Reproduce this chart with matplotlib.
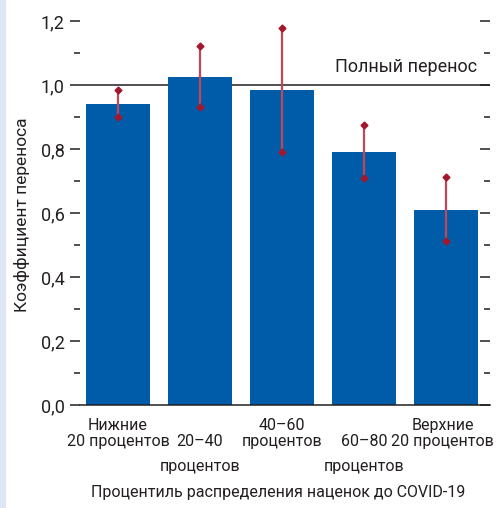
import matplotlib
matplotlib.use("Agg")
import matplotlib.pyplot as plt
from matplotlib.patches import Rectangle
from matplotlib.ticker import MultipleLocator
import numpy as np

# ---------- data ----------
categories = [["Нижние", "20 процентов"], ["20–40", "процентов"],
              ["40–60", "процентов"], ["60–80", "процентов"],
              ["Верхние", "20 процентов"]]
label_drop = [0, 1, 0, 1, 0]          # staggered tick labels
values = [0.941, 1.026, 0.983, 0.791, 0.610]
err_hi = [0.985, 1.123, 1.177, 0.875, 0.711]
err_lo = [0.901, 0.930, 0.792, 0.708, 0.511]
full_level = 1.0

# ---------- style ----------
plt.rcParams['font.family'] = ['Roboto', 'DejaVu Sans']
txt = "#231f20"
bar_c = "#005ca8"
err_line = "#c2465a"
err_dot = "#a3172d"
fs = 12

fig = plt.figure(figsize=(4.96, 5.08), dpi=100)
fig.patches.append(Rectangle((0, 0), 5/496, 1, transform=fig.transFigure,
                             color="#dde7f3", zorder=0))
ax = fig.add_axes([80/496, 1 - 405/508, 410/496, 384/508])

x = np.arange(len(values))
ax.axhline(full_level, color=txt, lw=1.1, zorder=1)
ax.bar(x, values, width=0.78, color=bar_c, zorder=2)
ax.vlines(x, err_lo, err_hi, color=err_line, lw=1.6, zorder=3)
ax.plot(x, err_hi, ls="none", marker="D", ms=3.5, color=err_dot, zorder=4)
ax.plot(x, err_lo, ls="none", marker="D", ms=3.5, color=err_dot, zorder=4)

ax.set_xlim(-0.463, 4.537)
ax.set_ylim(0, 1.2)

for s in ("top", "right", "left"):
    ax.spines[s].set_visible(False)
ax.spines["bottom"].set_color(txt)
ax.spines["bottom"].set_linewidth(1.1)

ax.yaxis.set_major_locator(MultipleLocator(0.2))
ax.yaxis.set_minor_locator(MultipleLocator(0.1))
ax.yaxis.set_major_formatter(lambda v, p: f"{v:.1f}".replace(".", ","))
ax.tick_params(axis="y", which="major", length=7, width=1.1, color=txt,
               labelsize=fs + 1, labelcolor=txt, pad=4, right=True)
ax.tick_params(axis="y", which="minor", length=4, width=1.1, color=txt, right=True)
# right-side ticks point inward
for t in ax.yaxis.get_major_ticks() + ax.yaxis.get_minor_ticks():
    t.tick2line.set_marker(matplotlib.lines.TICKLEFT)
ax.set_xticks(x)
ax.set_xticklabels([])
ax.tick_params(axis="x", length=0)

rows = [-0.054, -0.096, -0.160]
tr = ax.get_xaxis_transform()
last = len(categories) - 1
for i, (xi, lines, d) in enumerate(zip(x, categories, label_drop)):
    for k, line in enumerate(lines):
        # nudge the rightmost label so it stays inside the figure
        xpos = xi - 0.04 if i == last else xi
        ax.text(xpos, rows[k + d], line, transform=tr, ha="center", va="center",
                fontsize=fs - 0.5, color=txt, clip_on=False)

ax.text(0.968, 1.055, "Полный перенос", transform=ax.get_yaxis_transform(),
        ha="right", va="center", fontsize=fs + 1, color=txt)

fig.text(278/496, 1 - 493/508, "Процентиль распределения наценок до COVID-19",
         ha="center", va="center", fontsize=fs - 0.5, color=txt)
fig.text(22/496, 1 - 215/508, "Коэффициент переноса", rotation=90,
         ha="center", va="center", fontsize=fs + 0.5, color=txt)

fig.savefig("out.png", dpi=100)
